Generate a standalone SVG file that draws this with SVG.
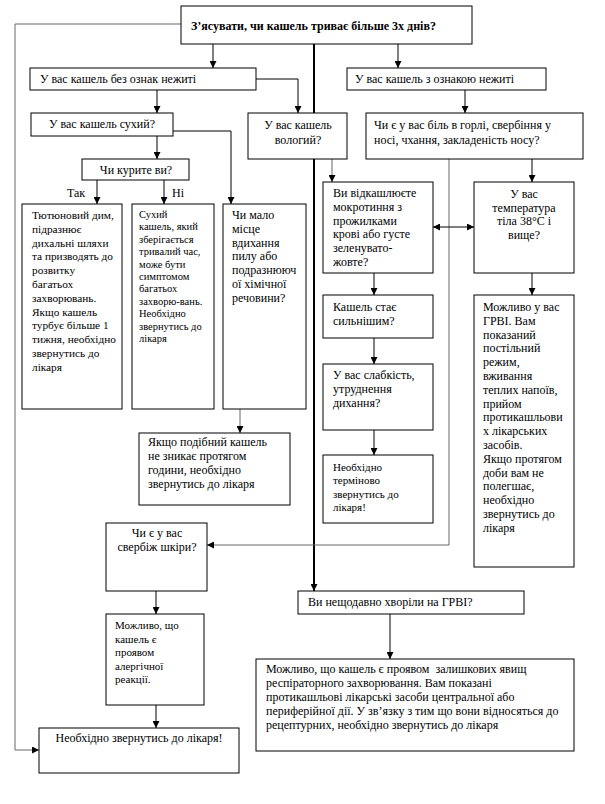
<svg xmlns="http://www.w3.org/2000/svg" width="605" height="804" viewBox="0 0 605 804">
<style>
.box{fill:#fff;stroke:#000;stroke-width:1}
.t{font-family:"Liberation Serif","Times New Roman",serif;font-size:12px;fill:#000}
.s{font-size:10.5px}
.m{font-size:11px}
.n{font-size:11.3px}
.b{font-weight:bold}
.c{text-anchor:middle}
.ln{fill:none;stroke:#000;stroke-width:1}
.g{stroke:#666}
.k{stroke-width:2}
</style>
<defs>
<marker id="ah" viewBox="0 0 8 8" refX="8" refY="4" markerWidth="7" markerHeight="7" markerUnits="userSpaceOnUse" orient="auto-start-reverse"><path d="M0,0 L8,4 L0,8 z" fill="#000"/></marker>
</defs>
<rect width="605" height="804" fill="#fff"/>
<g id="connectors">
<path class="ln g" d="M181,24 H15 V750 H39" marker-end="url(#ah)"/>
<path class="ln" d="M213,44 V68" marker-end="url(#ah)"/>
<path class="ln k" d="M314,44 V591" marker-end="url(#ah)"/>
<path class="ln" d="M398,44 V68" marker-end="url(#ah)"/>
<path class="ln" d="M256,79 H298 V113" marker-end="url(#ah)"/>
<path class="ln" d="M157,90 V113" marker-end="url(#ah)"/>
<path class="ln" d="M465,90 V113" marker-end="url(#ah)"/>
<path class="ln" d="M173,131 H231 V204" marker-end="url(#ah)"/>
<path class="ln" d="M157,136 V159" marker-end="url(#ah)"/>
<path class="ln" d="M97,180 V204" marker-end="url(#ah)"/>
<path class="ln" d="M164,180 V204" marker-end="url(#ah)"/>
<path class="ln g" d="M332,159 V182" marker-end="url(#ah)"/>
<path class="ln" d="M532,159 V182" marker-end="url(#ah)"/>
<path class="ln g" d="M449,159 V545 H207" marker-end="url(#ah)"/>
<path class="ln" d="M433,227 H474" marker-start="url(#ah)" marker-end="url(#ah)"/>
<path class="ln" d="M374,273 V295" marker-end="url(#ah)"/>
<path class="ln" d="M374,338 V364" marker-end="url(#ah)"/>
<path class="ln" d="M374,430 V455" marker-end="url(#ah)"/>
<path class="ln" d="M532,273 V295" marker-end="url(#ah)"/>
<path class="ln g" d="M240,409 V433" marker-end="url(#ah)"/>
<path class="ln" d="M156,591 V614" marker-end="url(#ah)"/>
<path class="ln" d="M156,705 V728" marker-end="url(#ah)"/>
<path class="ln" d="M390,614 V659" marker-end="url(#ah)"/>
<text class="t" x="67" y="197">Так</text>
<text class="t" x="172" y="197">Ні</text>
</g>
<g id="n-start"><rect class="box" x="181" y="6" width="291" height="38"/><text class="t b" x="191" y="30">З’ясувати, чи кашель триває більше 3х днів?</text></g>
<g id="n-nocold"><rect class="box" x="30" y="68" width="226" height="22"/><text class="t" x="40" y="83">У вас кашель без ознак нежиті</text></g>
<g id="n-cold"><rect class="box" x="347" y="68" width="199" height="22"/><text class="t" x="355" y="83">У вас кашель з ознакою нежиті</text></g>
<g id="n-dry"><rect class="box" x="31" y="113" width="142" height="23"/><text class="t c" x="102" y="128">У вас кашель сухий?</text></g>
<g id="n-wet"><rect class="box" x="248" y="113" width="99" height="46"/><text class="t c" x="298" y="129">У вас кашель<tspan x="298" dy="15">вологий?</tspan></text></g>
<g id="n-throat"><rect class="box" x="366" y="113" width="217" height="46"/><text class="t" x="374" y="129">Чи є у вас біль в горлі, свербіння у<tspan x="374" dy="15">носі, чхання, закладеність носу?</tspan></text></g>
<g id="n-smoke"><rect class="box" x="82" y="159" width="107" height="21"/><text class="t c" x="136" y="174">Чи курите ви?</text></g>
<g id="n-smoker"><rect class="box" x="22" y="204" width="100" height="205"/><text class="t n" x="32" y="219">Тютюновий дим,<tspan x="32" dy="13.8">підразнює</tspan><tspan x="32" dy="13.8">дихальні шляхи</tspan><tspan x="32" dy="13.8">та призводять до</tspan><tspan x="32" dy="13.8">розвитку</tspan><tspan x="32" dy="13.8">багатьох</tspan><tspan x="32" dy="13.8">захворювань.</tspan><tspan x="32" dy="13.8">Якщо кашель</tspan><tspan x="32" dy="13.8">турбує більше 1</tspan><tspan x="32" dy="13.8">тижня, необхідно</tspan><tspan x="32" dy="13.8">звернутись до</tspan><tspan x="32" dy="13.8">лікаря</tspan></text></g>
<g id="n-nonsmoker"><rect class="box" x="132" y="204" width="82" height="205"/><text class="t s" x="139" y="218">Сухий<tspan x="139" dy="12.4">кашель, який</tspan><tspan x="139" dy="12.4">зберігається</tspan><tspan x="139" dy="12.4">тривалий час,</tspan><tspan x="139" dy="12.4">може бути</tspan><tspan x="139" dy="12.4">симптомом</tspan><tspan x="139" dy="12.4">багатьох</tspan><tspan x="139" dy="12.4">захворю-вань.</tspan><tspan x="139" dy="12.4">Необхідно</tspan><tspan x="139" dy="12.4">звернутись до</tspan><tspan x="139" dy="12.4">лікаря</tspan></text></g>
<g id="n-dust"><rect class="box" x="223" y="204" width="83" height="205"/><text class="t" x="232" y="219">Чи мало<tspan x="232" dy="13.8">місце</tspan><tspan x="232" dy="13.8">вдихання</tspan><tspan x="232" dy="13.8">пилу або</tspan><tspan x="232" dy="13.8">подразнююч</tspan><tspan x="232" dy="13.8">ої хімічної</tspan><tspan x="232" dy="13.8">речовини?</tspan></text></g>
<g id="n-hour"><rect class="box" x="139" y="433" width="151" height="72"/><text class="t" x="148" y="446">Якщо подібний кашель<tspan x="148" dy="14">не зникає протягом</tspan><tspan x="148" dy="14">години, необхідно</tspan><tspan x="148" dy="14">звернутись до лікаря</tspan></text></g>
<g id="n-sputum"><rect class="box" x="323" y="182" width="110" height="91"/><text class="t" x="333" y="197">Ви відкашлюєте<tspan x="333" dy="13.8">мокротиння з</tspan><tspan x="333" dy="13.8">прожилками</tspan><tspan x="333" dy="13.8">крові або густе</tspan><tspan x="333" dy="13.8">зеленувато-</tspan><tspan x="333" dy="13.8">жовте?</tspan></text></g>
<g id="n-stronger"><rect class="box" x="323" y="295" width="110" height="43"/><text class="t" x="333" y="311">Кашель стає<tspan x="333" dy="13.6">сильнішим?</tspan></text></g>
<g id="n-weak"><rect class="box" x="323" y="364" width="110" height="66"/><text class="t" x="333" y="379">У вас слабкість,<tspan x="333" dy="14">утруднення</tspan><tspan x="333" dy="14">дихання?</tspan></text></g>
<g id="n-urgent"><rect class="box" x="323" y="455" width="110" height="68"/><text class="t m" x="333" y="471">Необхідно<tspan x="333" dy="13.3">терміново</tspan><tspan x="333" dy="13.3">звернутись до</tspan><tspan x="333" dy="13.3">лікаря!</tspan></text></g>
<g id="n-temp"><rect class="box" x="474" y="182" width="100" height="91"/><text class="t c" x="524" y="198">У вас<tspan x="524" dy="13.7">температура</tspan><tspan x="524" dy="13.7">тіла 38°С і</tspan><tspan x="524" dy="13.7">вище?</tspan></text></g>
<g id="n-grvi"><rect class="box" x="474" y="295" width="100" height="272"/><text class="t" x="483" y="311">Можливо у вас<tspan x="483" dy="13.8">ГРВІ. Вам</tspan><tspan x="483" dy="13.8">показаний</tspan><tspan x="483" dy="13.8">постільний</tspan><tspan x="483" dy="13.8">режим,</tspan><tspan x="483" dy="13.8">вживання</tspan><tspan x="483" dy="13.8">теплих напоїв,</tspan><tspan x="483" dy="13.8">прийом</tspan><tspan x="483" dy="13.8">протикашльови</tspan><tspan x="483" dy="13.8">х лікарських</tspan><tspan x="483" dy="13.8">засобів.</tspan><tspan x="483" dy="13.8">Якщо протягом</tspan><tspan x="483" dy="13.8">доби вам не</tspan><tspan x="483" dy="13.8">полегшає,</tspan><tspan x="483" dy="13.8">необхідно</tspan><tspan x="483" dy="13.8">звернутись до</tspan><tspan x="483" dy="13.8">лікаря</tspan></text></g>
<g id="n-itch"><rect class="box" x="106" y="523" width="101" height="68"/><text class="t c" x="157" y="537">Чи є у вас<tspan x="157" dy="14">свербіж шкіри?</tspan></text></g>
<g id="n-recent"><rect class="box" x="298" y="591" width="226" height="23"/><text class="t" x="308" y="606">Ви нещодавно хворіли на ГРВІ?</text></g>
<g id="n-allergy"><rect class="box" x="106" y="614" width="98" height="91"/><text class="t m" x="115" y="629">Можливо, що<tspan x="115" dy="13.5">кашель є</tspan><tspan x="115" dy="13.5">проявом</tspan><tspan x="115" dy="13.5">алергічної</tspan><tspan x="115" dy="13.5">реакції.</tspan></text></g>
<g id="n-residual"><rect class="box" x="256" y="659" width="318" height="92"/><text class="t" x="266" y="673" xml:space="preserve">Можливо, що кашель є проявом  залишкових явищ<tspan x="266" dy="14">респіраторного захворювання. Вам показані</tspan><tspan x="266" dy="14">протикашльові лікарські засоби центральної або</tspan><tspan x="266" dy="14">периферійної дії. У зв’язку з тим що вони відносяться до</tspan><tspan x="266" dy="14">рецептурних, необхідно звернутись до лікаря</tspan></text></g>
<g id="n-doctor"><rect class="box" x="39" y="728" width="200" height="45"/><text class="t c" x="139" y="742">Необхідно звернутись до лікаря!</text></g>
</svg>
